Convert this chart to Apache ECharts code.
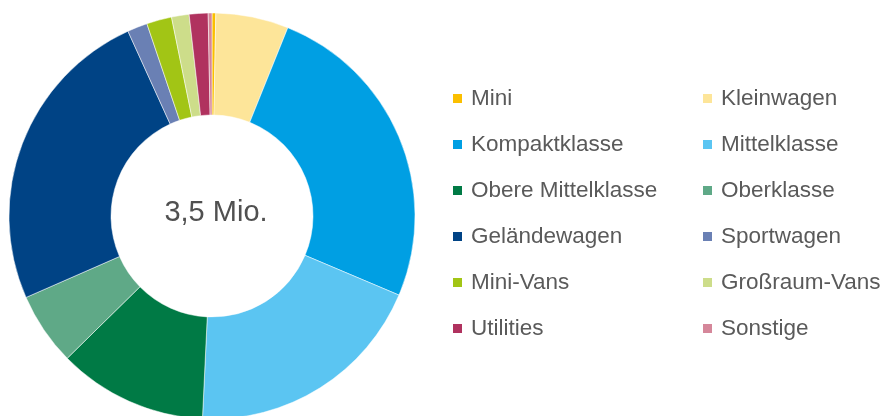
<!DOCTYPE html>
<html>
<head>
<meta charset="utf-8">
<script src="https://cdn.jsdelivr.net/npm/echarts@6/dist/echarts.min.js"></script>
<style>
  html, body { margin: 0; padding: 0; background: #fff; }
  #chart { width: 885px; height: 416px; }
</style>
</head>
<body>
<div id="chart"></div>
<script>
// Segmente (Anteil in %), im Uhrzeigersinn ab 12 Uhr
const categories = ['Mini', 'Kleinwagen', 'Kompaktklasse', 'Mittelklasse', 'Obere Mittelklasse', 'Oberklasse',
  'Geländewagen', 'Sportwagen', 'Mini-Vans', 'Großraum-Vans', 'Utilities', 'Sonstige'];
const shares = [0.3, 5.8, 25.3, 19.4, 11.9, 5.8, 24.8, 1.6, 2.0, 1.4, 1.5, 0.3];
const colors = ['#fbbf00', '#fde599', '#009fe3', '#5bc5f2', '#007a45', '#5fa987',
  '#004385', '#6a80b4', '#a2c515', '#cddd8a', '#b0325f', '#d5879a'];
const totalLabel = '3,5 Mio.';

const leftColumn = categories.filter((_, i) => i % 2 === 0);
const rightColumn = categories.filter((_, i) => i % 2 === 1);

const chart = echarts.init(document.getElementById('chart'), null, { renderer: 'canvas' });

const legendBase = {
  orient: 'vertical',
  top: 81,
  padding: 5,
  itemWidth: 11,
  itemHeight: 11,
  itemGap: 21,
  icon: 'rect',
  selectedMode: false,
  textStyle: { color: '#5a5a5a', fontSize: 22.5, lineHeight: 25, fontFamily: 'Liberation Sans', padding: [0, 0, 0, 3] }
};

chart.setOption({
  animation: false,
  color: colors,
  legend: [
    { ...legendBase, left: 446, data: leftColumn },
    { ...legendBase, left: 696, data: rightColumn }
  ],
  graphic: [{
    type: 'text',
    x: 216,
    y: 213,
    style: { text: totalLabel, fill: '#505050', font: '29px "Liberation Sans"', align: 'center', verticalAlign: 'middle' }
  }],
  series: [{
    type: 'pie',
    center: [212, 216],
    radius: [101, 203],
    startAngle: 90,
    clockwise: true,
    avoidLabelOverlap: false,
    label: { show: false },
    labelLine: { show: false },
    emphasis: { disabled: true },
    itemStyle: { borderColor: '#fff', borderWidth: 0.5 },
    data: categories.map((name, i) => ({ name, value: shares[i] }))
  }]
});
</script>
</body>
</html>
